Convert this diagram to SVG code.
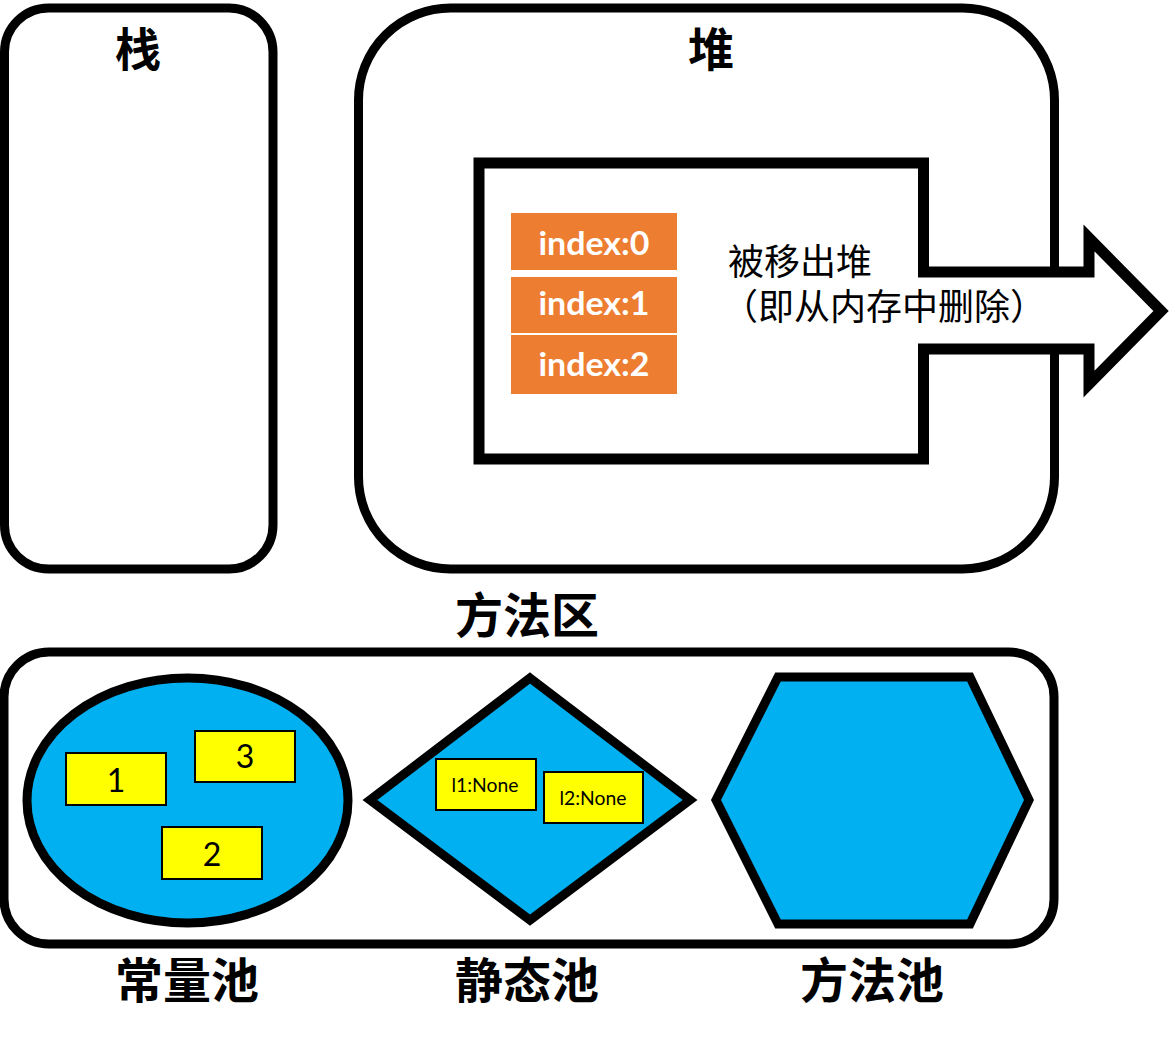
<svg xmlns="http://www.w3.org/2000/svg" width="1172" height="1040" viewBox="0 0 1172 1040">
<style>
.box{fill:#fff;stroke:#000;stroke-width:9}
.pool{fill:#00B0F0;stroke:#000;stroke-width:9;stroke-linejoin:miter}
.ybox{fill:#FFFF00;stroke:#000;stroke-width:2}
.title{font-family:"Noto Sans CJK SC","Noto Sans",sans-serif;font-weight:bold;text-anchor:middle;fill:#000}
.cn{font-family:"Noto Sans CJK SC","Noto Sans",sans-serif;font-size:36px;fill:#000}
.idx{font-family:"Lato","Liberation Sans",sans-serif;font-weight:bold;font-size:33px;fill:#fff;text-anchor:middle}
.num{font-family:"Lato","Open Sans","Liberation Sans",sans-serif;font-size:32px;fill:#000;text-anchor:middle}
.sm{font-family:"Lato","Open Sans","Liberation Sans",sans-serif;font-size:19px;fill:#000;text-anchor:middle}
</style>
<g id="stack">
<rect class="box" x="4.5" y="8" width="268.5" height="561" rx="44"/>
<text class="title" x="138" y="66" font-size="46">栈</text>
</g>
<g id="heap">
<rect class="box" x="358.5" y="8" width="696" height="561" rx="92"/>
<text class="title" x="711" y="66" font-size="46">堆</text>
</g>
<g id="remove-arrow">
<polygon points="479,163 923.5,163 923.5,272 1089,272 1089,238 1161,311 1089,384 1089,349 923.5,349 923.5,459 479,459" fill="#fff" stroke="#000" stroke-width="11" stroke-linejoin="miter" stroke-miterlimit="10"/>
<text class="cn" x="728" y="275">被移出堆</text>
<text class="cn" x="722" y="320">（即从内存中删除）</text>
</g>
<g id="list-object">
<rect x="511" y="213" width="166" height="57" fill="#ED7D31"/>
<rect x="511" y="277" width="166" height="56" fill="#ED7D31"/>
<rect x="511" y="335" width="166" height="59" fill="#ED7D31"/>
<text class="idx" x="594" y="255" textLength="111" lengthAdjust="spacingAndGlyphs">index:0</text>
<text class="idx" x="594" y="315" textLength="111" lengthAdjust="spacingAndGlyphs">index:1</text>
<text class="idx" x="594" y="376" textLength="111" lengthAdjust="spacingAndGlyphs">index:2</text>
</g>
<g id="method-area">
<text class="title" x="527" y="633" font-size="48">方法区</text>
<rect class="box" x="4" y="652" width="1050" height="292" rx="45"/>
</g>
<g id="constant-pool">
<ellipse class="pool" cx="187.5" cy="800.5" rx="160.5" ry="122.5"/>
<rect class="ybox" x="66" y="753" width="100" height="52"/>
<text class="num" x="116" y="792">1</text>
<rect class="ybox" x="195" y="731" width="100" height="51"/>
<text class="num" x="245" y="768">3</text>
<rect class="ybox" x="162" y="827" width="100" height="52"/>
<text class="num" x="212" y="866">2</text>
<text class="title" x="187" y="998" font-size="48">常量池</text>
</g>
<g id="static-pool">
<polygon class="pool" points="530,678 690,800 530,920 370,800" stroke-width="10"/>
<rect class="ybox" x="436" y="759" width="100" height="51"/>
<text class="sm" x="485" y="792" textLength="67" lengthAdjust="spacingAndGlyphs">l1:None</text>
<rect class="ybox" x="544" y="772" width="99" height="51"/>
<text class="sm" x="593" y="805" textLength="67" lengthAdjust="spacingAndGlyphs">l2:None</text>
<text class="title" x="527" y="998" font-size="48">静态池</text>
</g>
<g id="method-pool">
<polygon class="pool" points="716,800 778,677 970,677 1029,800 970,924 778,924"/>
<text class="title" x="872" y="998" font-size="48">方法池</text>
</g>
<g id="connectors"></g>
</svg>
